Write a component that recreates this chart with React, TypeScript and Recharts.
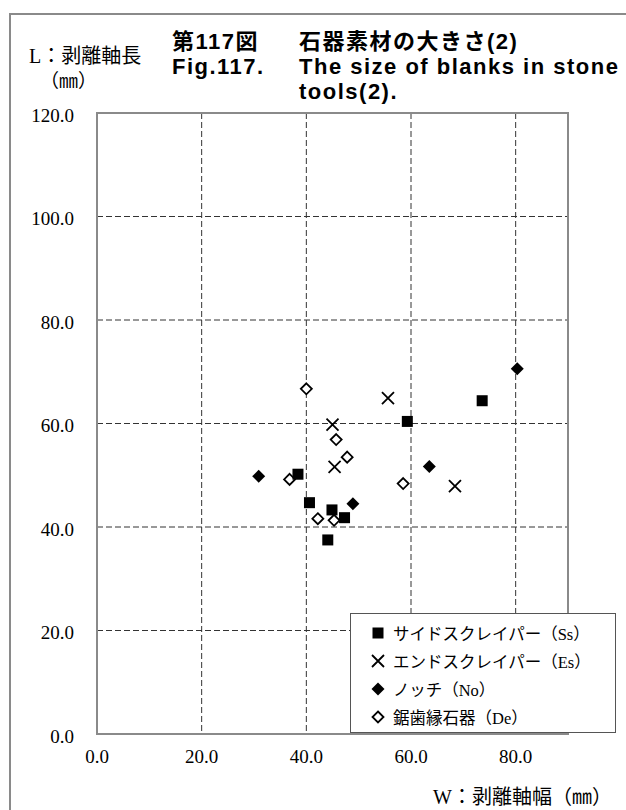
import React from 'react';
import { ScatterChart, Scatter, XAxis, YAxis, CartesianGrid, Legend, ReferenceArea } from 'recharts';

// W (width, mm) / L (length, mm)
const sideScraper = [
  { w: 38.4, l: 50.2 },
  { w: 40.6, l: 44.7 },
  { w: 44.9, l: 43.3 },
  { w: 47.3, l: 41.8 },
  { w: 44.1, l: 37.5 },
  { w: 59.3, l: 60.4 },
  { w: 73.6, l: 64.4 },
];
const endScraper = [
  { w: 45.0, l: 59.8 },
  { w: 45.4, l: 51.6 },
  { w: 55.6, l: 64.9 },
  { w: 68.4, l: 47.9 },
];
const notch = [
  { w: 30.9, l: 49.8 },
  { w: 48.9, l: 44.5 },
  { w: 63.5, l: 51.7 },
  { w: 80.3, l: 70.6 },
];
const denticulate = [
  { w: 40.0, l: 66.7 },
  { w: 45.7, l: 56.9 },
  { w: 47.8, l: 53.5 },
  { w: 36.8, l: 49.2 },
  { w: 58.5, l: 48.4 },
  { w: 42.2, l: 41.6 },
  { w: 45.3, l: 41.3 },
];

const seriesNames = ['サイドスクレイパー（Ss）', 'エンドスクレイパー（Es）', 'ノッチ（No）', '鋸歯縁石器（De）'];
const markerKinds = ['square', 'cross', 'diamond', 'openDiamond'];

const xTicks = [0, 20, 40, 60, 80];
const yTicks = [0, 20, 40, 60, 80, 100, 120];
const xGrid = [20, 40, 60, 80];
const yGrid = [20, 40, 60, 80, 100];

const serif = '"Liberation Serif", "Noto Sans CJK JP", serif';
const sans = '"Liberation Sans", "Noto Sans CJK JP", sans-serif';

const Marker = ({ kind, cx, cy }: { kind: string; cx: number; cy: number }) => {
  if (kind === 'square') {
    return <rect x={cx - 5.5} y={cy - 5.5} width={11} height={11} fill="#000" />;
  }
  if (kind === 'cross') {
    return (
      <path
        d={`M${cx - 6},${cy - 6}L${cx + 6},${cy + 6}M${cx - 6},${cy + 6}L${cx + 6},${cy - 6}`}
        stroke="#000"
        strokeWidth={1.8}
        fill="none"
      />
    );
  }
  if (kind === 'diamond') {
    return <path d={`M${cx},${cy - 6.5}L${cx + 6.5},${cy}L${cx},${cy + 6.5}L${cx - 6.5},${cy}Z`} fill="#000" />;
  }
  return (
    <path
      d={`M${cx},${cy - 5.5}L${cx + 5.5},${cy}L${cx},${cy + 5.5}L${cx - 5.5},${cy}Z`}
      fill="#fff"
      stroke="#000"
      strokeWidth={1.8}
    />
  );
};

const shapeOf = (kind: string) => (props: any) => <Marker kind={kind} cx={props.cx} cy={props.cy} />;

const LegendBox = () => (
  <div style={{ paddingTop: 5, fontFamily: serif, fontSize: 16.5, color: '#000' }}>
    {seriesNames.map((name, i) => (
      <div key={name} style={{ display: 'flex', alignItems: 'center', height: 28 }}>
        <svg width={40} height={28} style={{ flex: 'none' }}>
          <Marker kind={markerKinds[i]} cx={27} cy={14} />
        </svg>
        <span style={{ marginLeft: 2, whiteSpace: 'nowrap' }}>{name}</span>
      </div>
    ))}
  </div>
);

const fmt = (v: number) => v.toFixed(1);

export default function App() {
  return (
    <div style={{ position: 'absolute', left: 0, top: 0, width: 626, height: 810, overflow: 'hidden', background: '#fff' }}>
      <div
        style={{
          position: 'absolute',
          left: 9,
          top: 13,
          width: 700,
          height: 900,
          border: '2px solid #8a8a8a',
        }}
      />
      <div style={{ position: 'absolute', left: 29, top: 44, fontFamily: serif, fontSize: 20, lineHeight: '24px' }}>
        L：剥離軸長
      </div>
      <div style={{ position: 'absolute', left: 40, top: 70, fontFamily: serif, fontSize: 19, lineHeight: '24px' }}>
        （㎜）
      </div>
      <div
        style={{
          position: 'absolute',
          left: 172,
          top: 29,
          fontFamily: sans,
          fontWeight: 700,
          fontSize: 22,
          lineHeight: '25px',
          letterSpacing: 1.5,
          whiteSpace: 'nowrap',
        }}
      >
        <div style={{ display: 'flex' }}>
          <span style={{ width: 127 }}>第117図</span>
          <span>石器素材の大きさ(2)</span>
        </div>
        <div style={{ display: 'flex' }}>
          <span style={{ width: 127 }}>Fig.117.</span>
          <span>
            The size of blanks in stone
            <br />
            tools(2).
          </span>
        </div>
      </div>
      <div
        style={{
          position: 'absolute',
          right: 14,
          top: 785,
          fontFamily: serif,
          fontSize: 20,
          lineHeight: '24px',
          whiteSpace: 'nowrap',
        }}
      >
        W：剥離軸幅（㎜）
      </div>
      <ScatterChart width={626} height={810} margin={{ top: 113, right: 58, bottom: 0, left: 0 }}>
        <CartesianGrid
          stroke="#333"
          strokeDasharray="6 3"
          verticalValues={xGrid}
          horizontalValues={yGrid}
        />
        <XAxis
          type="number"
          dataKey="w"
          domain={[0, 90]}
          ticks={xTicks}
          allowDataOverflow
          axisLine={false}
          tickLine={false}
          tickSize={0}
          tickMargin={16}
          height={76}
          tickFormatter={fmt}
          tick={{ fill: '#000', fontSize: 19, fontFamily: serif }}
        />
        <YAxis
          type="number"
          dataKey="l"
          domain={[0, 120]}
          ticks={yTicks}
          allowDataOverflow
          axisLine={false}
          tickLine={false}
          tickSize={0}
          tickMargin={23}
          width={97}
          tickFormatter={fmt}
          tick={{ fill: '#000', fontSize: 19, fontFamily: serif, dy: 2 }}
        />
        <ReferenceArea x1={0} x2={90} y1={0} y2={120} fill="none" stroke="#8a8a8a" strokeWidth={2} ifOverflow="visible" />
        <Scatter name={seriesNames[3]} data={denticulate} shape={shapeOf(markerKinds[3])} isAnimationActive={false} />
        <Scatter name={seriesNames[0]} data={sideScraper} shape={shapeOf(markerKinds[0])} isAnimationActive={false} />
        <Scatter name={seriesNames[1]} data={endScraper} shape={shapeOf(markerKinds[1])} isAnimationActive={false} />
        <Scatter name={seriesNames[2]} data={notch} shape={shapeOf(markerKinds[2])} isAnimationActive={false} />
        <Legend
          layout="vertical"
          align="center"
          verticalAlign="middle"
          content={() => <LegendBox />}
          wrapperStyle={{
            left: 350,
            top: 613,
            width: 266,
            height: 120,
            border: '1.5px solid #555',
            background: '#fff',
            boxSizing: 'border-box',
          }}
        />
      </ScatterChart>
    </div>
  );
}
